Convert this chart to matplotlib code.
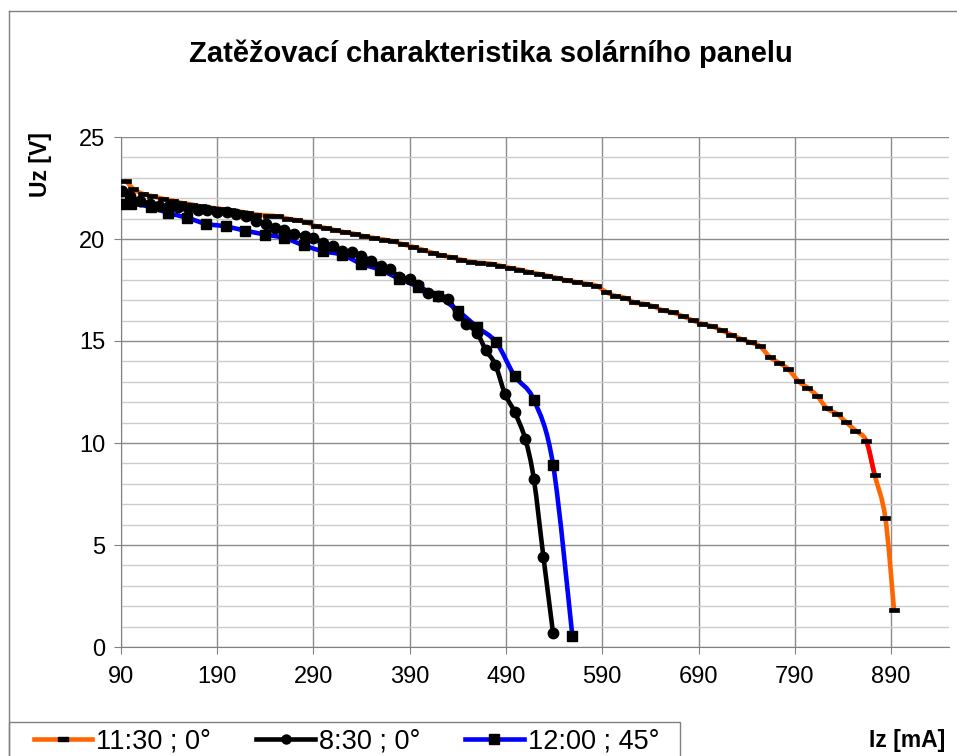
'''
load characteristic of a solar panel - Uz vs Iz for three measurements
'''
import numpy as np
import matplotlib
matplotlib.use('Agg')
import matplotlib.pyplot as plt
from matplotlib.path import Path
from matplotlib.patches import PathPatch, Rectangle
from matplotlib.lines import Line2D

plt.rcParams['font.family'] = ['Liberation Sans', 'DejaVu Sans']

# 11:30 ; 0 deg (orange)
iz_1130 = [96, 103, 113, 123, 134, 144, 153, 164, 173, 183, 193, 203, 213, 222, 231,
           243, 253, 263, 273, 283, 293, 303, 313, 323, 333, 343, 353, 363, 373, 383,
           394, 403, 414, 423, 434, 443, 454, 463, 474, 484, 494, 504, 513, 524, 533,
           543, 553, 564, 574, 584, 594, 603, 614, 623, 633, 643, 653, 663, 674, 684,
           694, 704, 714, 724, 734, 744, 754, 764, 774, 783, 794, 803, 813, 823, 834,
           843, 853, 864, 873, 884, 893]
uz_1130 = [22.83, 22.46, 22.21, 22.10, 21.97, 21.88, 21.77, 21.69, 21.60, 21.53, 21.48, 21.41,
           21.34, 21.28, 21.20, 21.15, 21.11, 21.00, 20.92, 20.82, 20.62, 20.54, 20.43, 20.33,
           20.25, 20.13, 20.05, 19.97, 19.89, 19.74, 19.61, 19.48, 19.32, 19.20, 19.10, 18.99,
           18.88, 18.83, 18.79, 18.69, 18.58, 18.50, 18.39, 18.29, 18.20, 18.09, 17.97, 17.88,
           17.80, 17.71, 17.40, 17.22, 17.11, 16.89, 16.82, 16.70, 16.50, 16.40, 16.21, 16.01,
           15.83, 15.72, 15.52, 15.31, 15.10, 14.93, 14.74, 14.21, 13.92, 13.63, 13.02, 12.72,
           12.32, 11.71, 11.42, 11.03, 10.61, 10.12, 8.42, 6.33, 1.82]

# 8:30 ; 0 deg (black)
iz_0830 = [91, 100, 110, 120, 130, 140, 150, 160, 170, 180, 190, 200, 210, 220, 231,
           241, 250, 260, 270, 281, 290, 300, 310, 320, 330, 340, 350, 360, 370, 379,
           390, 399, 409, 420, 430, 440, 449, 460, 469, 479, 489, 499, 510, 519, 529, 539]
uz_0830 = [22.34, 22.10, 21.85, 21.72, 21.60, 21.60, 21.55, 21.50, 21.40, 21.40, 21.32, 21.32,
           21.24, 21.11, 20.90, 20.74, 20.54, 20.46, 20.25, 20.14, 20.05, 19.81, 19.64, 19.40,
           19.38, 19.15, 18.94, 18.66, 18.55, 18.12, 18.06, 17.76, 17.36, 17.22, 17.06, 16.29,
           15.85, 15.39, 14.57, 13.84, 12.41, 11.52, 10.21, 8.23, 4.40, 0.67]

# 12:00 ; 45 deg (blue)
iz_1200 = [90, 101, 121, 139, 159, 179, 199, 219, 240, 260, 280, 300, 320, 340, 359,
           379, 399, 420, 440, 460, 480, 499, 519, 539, 559]
uz_1200 = [21.74, 21.74, 21.57, 21.28, 21.04, 20.74, 20.62, 20.41, 20.22, 20.05, 19.69, 19.40,
           19.23, 18.78, 18.50, 18.06, 17.66, 17.19, 16.49, 15.69, 14.93, 13.29, 12.12, 8.93, 0.54]

labels = ['11:30 ; 0°', '8:30 ; 0°', '12:00 ; 45°']

ORANGE = '#ff6600'
BLUE = '#0000ff'
LW = 3.3


def smooth_path(xs, ys):
    # excel-like smoothed line (catmull-rom as cubic bezier)
    pts = np.column_stack([xs, ys]).astype(float)
    ext = np.vstack([pts[0], pts, pts[-1]])
    verts = [pts[0]]
    codes = [Path.MOVETO]
    for i in range(len(pts) - 1):
        p0, p1, p2, p3 = ext[i], ext[i + 1], ext[i + 2], ext[i + 3]
        verts += [p1 + (p2 - p0) / 6, p2 - (p3 - p1) / 6, p2]
        codes += [Path.CURVE4] * 3
    return np.array(verts), codes


def draw_line(ax, xs, ys, color):
    verts, codes = smooth_path(xs, ys)
    ax.add_patch(PathPatch(Path(verts, codes), fill=False, edgecolor=color, lw=LW,
                           capstyle='round', joinstyle='round'))
    return verts


rect = [(-1, -0.48), (1, -0.48), (1, 0.48), (-1, 0.48), (-1, -0.48)]

fig = plt.figure(figsize=(9.57, 7.56), dpi=100)
ax = fig.add_axes([120.7 / 957, 1 - 647 / 756, (948.9 - 120.7) / 957, 510 / 756])

# orange series + one red segment
verts = draw_line(ax, iz_1130, uz_1130, ORANGE)
k = iz_1130.index(864)
ax.add_patch(PathPatch(Path(verts[3 * k:3 * k + 4], [Path.MOVETO] + [Path.CURVE4] * 3),
                       fill=False, edgecolor='#ff0000', lw=LW, capstyle='round'))
ax.plot(iz_1130, uz_1130, ls='none', marker=rect, ms=7.2, mfc='k', mec='k', mew=0.5, zorder=3)

draw_line(ax, iz_0830, uz_0830, 'black')
ax.plot(iz_0830, uz_0830, ls='none', marker='o', ms=7.5, mfc='k', mec='k', zorder=3)

draw_line(ax, iz_1200, uz_1200, BLUE)
ax.plot(iz_1200, uz_1200, ls='none', marker='s', ms=7.3, mfc='k', mec='k', zorder=3)

ax.set_xlim(90, 950)
ax.set_ylim(0, 25)
ax.set_xticks(range(90, 891, 100))
ax.set_yticks(range(0, 26, 5))
ax.set_yticks(range(0, 26, 1), minor=True)
ax.grid(which='major', color='#8c8c8c', lw=1)
ax.yaxis.grid(which='minor', color='#cccccc', lw=1)
ax.set_axisbelow(True)
ax.tick_params(which='major', length=5, color='#808080', labelsize=17)
ax.tick_params(axis='x', pad=9)
ax.tick_params(axis='y', pad=6)
ax.tick_params(which='minor', length=0)
for s in ['top', 'right']:
    ax.spines[s].set_visible(False)
for s in ['left', 'bottom']:
    ax.spines[s].set_color('#808080')

fig.text(491 / 957, 1 - 54 / 756, 'Zatěžovací charakteristika solárního panelu',
         ha='center', va='center', fontsize=21, weight='bold')
fig.text(41 / 957, 1 - 132 / 756, 'Uz [V]', rotation=90, ha='center', va='top',
         fontsize=16.5, weight='bold')
fig.text(945 / 957, 1 - 741 / 756, 'Iz [mA]', ha='right', va='center',
         fontsize=16.5, weight='bold')

# chart frame
fig.add_artist(Line2D([9 / 957, 9 / 957], [0, 1 - 11 / 756], color='#808080', lw=1))
fig.add_artist(Line2D([9 / 957, 1], [1 - 11 / 756, 1 - 11 / 756], color='#808080', lw=1))

# legend box (runs past the bottom edge)
fig.add_artist(Rectangle((9 / 957, 1 - 770 / 756), 671 / 957, 48 / 756, fill=False,
                         edgecolor='#808080', lw=1, transform=fig.transFigure))

handles = [
    Line2D([], [], color=ORANGE, lw=LW, marker=rect, ms=7.2, mfc='k', mec='k'),
    Line2D([], [], color='black', lw=LW, marker='o', ms=6.5, mfc='k', mec='k'),
    Line2D([], [], color=BLUE, lw=LW, marker='s', ms=6.5, mfc='k', mec='k'),
]
leg = fig.legend(handles, labels, loc='center left', bbox_to_anchor=(34 / 957, 1 - 741 / 756),
                 ncol=3, fontsize=19.5, frameon=False, borderpad=0, borderaxespad=0,
                 handlelength=2.15, handletextpad=0.15, columnspacing=1.67, numpoints=1)

fig.savefig('out.png', dpi=100)
